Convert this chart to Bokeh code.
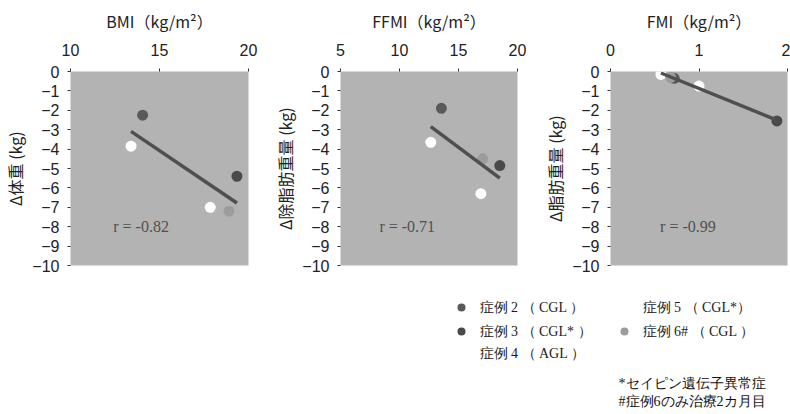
import numpy as np
from bokeh.plotting import figure
from bokeh.layouts import column, row
from bokeh.models import FixedTicker, Range1d, Label
from bokeh.embed import file_html
from bokeh.resources import INLINE

# --- data -------------------------------------------------------------
cases = ["症例 2", "症例 3", "症例 4", "症例 5", "症例 6#"]
case_colors = ["#5a5a5a", "#4a4a4a", "#ffffff", "#ffffff", "#9c9c9c"]

bmi = [14.05, 19.35, 13.4, 17.85, 18.9]
d_weight = [-2.25, -5.4, -3.85, -7.0, -7.2]

ffmi = [13.55, 18.5, 12.65, 16.9, 17.05]
d_ffm = [-1.9, -4.85, -3.65, -6.3, -4.5]

fmi = [0.72, 1.88, 0.57, 1.0, 0.68]
d_fm = [-0.35, -2.55, -0.15, -0.75, -0.3]

r_text = ["r = -0.82", "r = -0.71", "r = -0.99"]

x_titles = ["BMI（kg/m²）", "FFMI（kg/m²）", "FMI（kg/m²）"]
y_titles = ["Δ体重 (kg)", "Δ除脂肪重量 (kg)", "Δ脂肪重量 (kg)"]
x_ranges = [(10, 20), (5, 20), (0, 2)]
x_ticks = [[10, 15, 20], [5, 10, 15, 20], [0, 1, 2]]
y_ticks = list(range(-10, 1))
r_pos = [(12.4, -8.0), (8.3, -8.0), (0.56, -8.0)]

legend_rows = [
    ("症例 2 （ CGL ）", "#5a5a5a", 0, 0),
    ("症例 3 （ CGL* ）", "#4a4a4a", 0, 1),
    ("症例 4 （ AGL ）", "#ffffff", 0, 2),
    ("症例 5 （ CGL*）", "#ffffff", 1, 0),
    ("症例 6# （ CGL ）", "#9c9c9c", 1, 1),
]
notes = ["*セイピン遺伝子異常症", "#症例6のみ治療2カ月目"]

JP = "Noto Sans CJK JP"
SANS = "Liberation Sans"
BG = "#b3b3b3"


def panel(xs, ys, xr, xt, xtitle, ytitle, rtxt, rp, width, left, right):
    p = figure(width=width, height=290, x_range=xr, y_range=(-10, 0),
               x_axis_location="above", output_backend="svg",
               toolbar_location=None, min_border_left=left,
               min_border_right=right, min_border_top=71,
               min_border_bottom=25)
    p.background_fill_color = BG
    p.border_fill_color = "white"
    p.outline_line_color = None
    p.grid.visible = False

    for ax in (p.xaxis[0], p.yaxis[0]):
        ax.axis_line_color = None
        ax.major_tick_line_color = "#333333"
        ax.major_tick_out = 3
        ax.major_tick_in = 0
        ax.minor_tick_line_color = None
        ax.major_label_text_font = SANS
        ax.major_label_text_font_size = "16px"
        ax.major_label_text_color = "#222222"
        ax.axis_label_text_font = JP
        ax.axis_label_text_font_style = "normal"
        ax.axis_label_text_color = "#222222"

    p.xaxis.ticker = FixedTicker(ticks=xt)
    p.xaxis.major_label_standoff = 13
    p.xaxis.axis_label = xtitle
    p.xaxis.axis_label_text_font_size = "16px"
    p.xaxis.axis_label_standoff = 8

    p.yaxis.ticker = FixedTicker(ticks=y_ticks)
    p.yaxis.major_label_standoff = 8
    p.yaxis.axis_label = ytitle
    p.yaxis.axis_label_text_font_size = "16px"
    p.yaxis.axis_label_standoff = 2

    # case markers
    p.scatter(xs, ys, size=11, fill_color=case_colors, line_color=None)

    # least-squares line over the data range
    k, b = np.polyfit(xs, ys, 1)
    lx = np.array([min(xs), max(xs)])
    p.line(lx, k * lx + b, line_color="#4f4f4f", line_width=3.5)

    p.add_layout(Label(x=rp[0], y=rp[1], text=rtxt, text_font="Liberation Serif",
                       text_font_size="16px", text_color="#505050",
                       text_baseline="middle"))
    return p


p1 = panel(bmi, d_weight, x_ranges[0], x_ticks[0], x_titles[0], y_titles[0],
           r_text[0], r_pos[0], 270, 63, 22)
p2 = panel(ffmi, d_ffm, x_ranges[1], x_ticks[1], x_titles[1], y_titles[1],
           r_text[1], r_pos[1], 270, 68, 23)
p3 = panel(fmi, d_fm, x_ranges[2], x_ticks[2], x_titles[2], y_titles[2],
           r_text[2], r_pos[2], 250, 68, 3)

# --- legend and notes (pixel-like coordinates) ---------------------------
leg = figure(width=790, height=124, x_range=Range1d(0, 790),
             y_range=Range1d(414, 290), output_backend="svg",
             toolbar_location=None, min_border=0)
leg.axis.visible = False
leg.grid.visible = False
leg.outline_line_color = None
leg.background_fill_color = "white"

col_x = [461, 624]
row_y = [307, 331, 353]
for label, color, c, r in legend_rows:
    mx = col_x[c]
    y = row_y[r]
    leg.scatter([mx], [y], size=8, fill_color=color, line_color=None)
    leg.text([mx + 18], [y], text=[label],
             text_font=JP, text_font_size="14px", text_color="#1a1a1a",
             text_baseline="middle")

for i, t in enumerate(notes):
    leg.text([618], [383 + 18 * i], text=[t], text_font=JP,
             text_font_size="14px", text_color="#111111",
             text_baseline="middle")

layout = column(row(p1, p2, p3), leg)
open("out.html", "w").write(file_html(layout, INLINE))
